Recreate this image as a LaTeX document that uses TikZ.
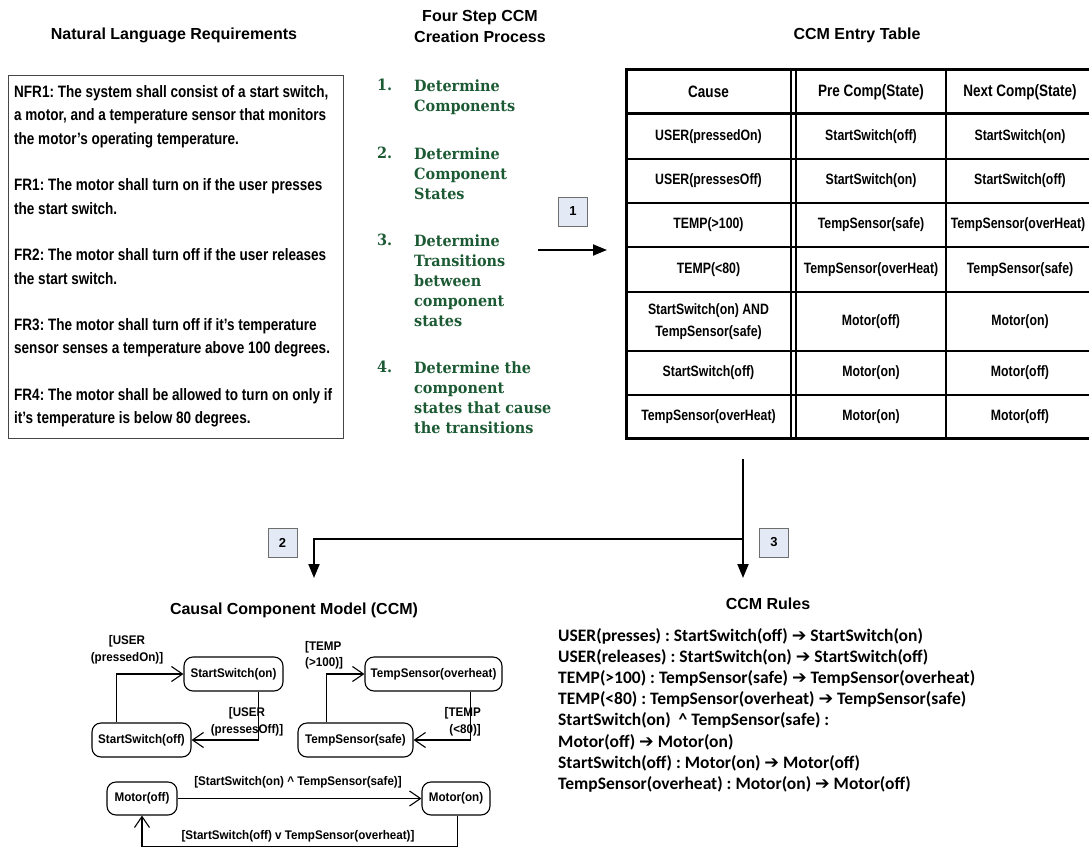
\documentclass[tikz,border=0pt]{standalone}
\usepackage{fontspec}
\usetikzlibrary{arrows.meta}
\setmainfont{Liberation Sans}
\newfontfamily\narrowsans[FakeStretch=0.82]{Liberation Sans}
\newfontfamily\statesans[FakeStretch=0.93]{Liberation Sans}
\newfontfamily\stepserif[FakeStretch=0.93]{DejaVu Serif}
\newfontfamily\rulesfont{Carlito}
\newfontfamily\arrowglyph{DejaVu Sans}
\definecolor{stepgreen}{RGB}{28,90,52}
\definecolor{tagfill}{RGB}{228,234,245}
\definecolor{tagline}{RGB}{110,110,110}
\definecolor{boxline}{RGB}{70,70,70}
\newcommand{\ruleto}{{\arrowglyph ➔}}
\frenchspacing

\begin{document}
\begin{tikzpicture}[x=1pt,y=-1pt,
  heading/.style={font=\bfseries\fontsize{16}{21}\selectfont, align=center, inner sep=0pt},
  reqtext/.style={font=\narrowsans\bfseries\fontsize{16.5}{23.3}\selectfont, align=left, inner sep=0pt, anchor=north west},
  stepnum/.style={font=\stepserif\bfseries\fontsize{15.5}{20}\selectfont, text=stepgreen, inner sep=0pt, anchor=base west},
  steptext/.style={font=\stepserif\bfseries\fontsize{15.5}{20}\selectfont, text=stepgreen, align=left, inner sep=0pt, anchor=north west},
  cell/.style={font=\narrowsans\bfseries\fontsize{15}{22.5}\selectfont, align=center, inner sep=0pt},
  headcell/.style={font=\narrowsans\bfseries\fontsize{16.5}{20}\selectfont, inner sep=0pt},
  tag/.style={draw=tagline, fill=tagfill, line width=1pt, minimum width=29pt, minimum height=29pt, inner sep=0pt, font=\bfseries\fontsize{13}{15}\selectfont},
  flow/.style={line width=2pt, -{Triangle[length=14pt,width=11pt]}},
  state/.style={draw, rounded corners=9pt, line width=1.1pt, minimum height=34pt, inner sep=0pt, font=\statesans\bfseries\fontsize{12.5}{15}\selectfont},
  guard/.style={font=\statesans\bfseries\fontsize{12.5}{16.5}\selectfont, inner sep=0pt},
  trans/.style={line width=1.1pt, -{Straight Barb[length=11pt,width=15pt]}},
  ruletext/.style={font=\rulesfont\bfseries\fontsize{17.5}{21.2}\selectfont, align=left, inner sep=0pt, anchor=north west},
]
\useasboundingbox (0,0) rectangle (1089,848);

% ---------- headings ----------
\node[heading, anchor=base] (hnlr) at (174,40) {Natural Language Requirements};
\node[heading, anchor=north] (hsteps) at (480,10) {Four Step CCM\\Creation Process};
\node[heading, anchor=base] (htable) at (857,40) {CCM Entry Table};
\node[heading, anchor=base] (hccm) at (294,614) {Causal Component Model (CCM)};
\node[heading, anchor=base] (hrules) at (768,609) {CCM Rules};

% ---------- requirements ----------
\node[draw=boxline, line width=1.2pt, anchor=north west, minimum width=335pt, minimum height=363pt, inner sep=0pt] (nfrbox) at (8,75) {};
\node[reqtext] (nfr) at (14,85.5) {%
NFR1: The system shall consist of a start switch,\\
a motor, and a temperature sensor that monitors\\
the motor’s operating temperature.\\[23.3pt]
FR1: The motor shall turn on if the user presses\\
the start switch.\\[23.3pt]
FR2: The motor shall turn off if the user releases\\
the start switch.\\[23.3pt]
FR3: The motor shall turn off if it’s temperature\\
sensor senses a temperature above 100 degrees.\\[23.3pt]
FR4: The motor shall be allowed to turn on only if\\
it’s temperature is below 80 degrees.};

% ---------- creation steps ----------
\node[stepnum] (n1) at (377,90.5) {1.};
\node[steptext] (s1) at (414,79.5) {Determine\\Components};
\node[stepnum] (n2) at (377,158.5) {2.};
\node[steptext] (s2) at (414,147.5) {Determine\\Component\\States};
\node[stepnum] (n3) at (377,245.5) {3.};
\node[steptext] (s3) at (414,234.5) {Determine\\Transitions\\between\\component\\states};
\node[stepnum] (n4) at (377,372.5) {4.};
\node[steptext] (s4) at (414,361.5) {Determine the\\component\\states that cause\\the transitions};

% ---------- step 1 arrow ----------
\node[tag] (tag1) at (573,211.5) {1};
\coordinate (a1s) at (538,250);
\coordinate (a1e) at (607,250);
\draw[flow] (a1s) -- (a1e);

% ---------- entry table ----------
\draw[line width=3pt] (1090,70) -- (626,70) -- (626,438) -- (1090,438);
\draw[line width=3pt] (626,114) -- (1090,114);
\foreach \yy in {159,203,247,292,351,395}
  \draw[line width=2pt] (626,\yy) -- (1090,\yy);
\draw[line width=1.4pt] (791,70) -- (791,438);
\draw[line width=1.4pt] (796,70) -- (796,438);
\draw[line width=2pt] (946,70) -- (946,438);

\node[headcell] (t01) at (708.5,92) {Cause};
\node[headcell] (t02) at (871,92) {Pre Comp(State)};
\node[headcell] (t03) at (1020,92) {Next Comp(State)};
\node[cell] (t11) at (708.5,136.5) {USER(pressedOn)};
\node[cell] (t12) at (871,136.5) {StartSwitch(off)};
\node[cell] (t13) at (1020,136.5) {StartSwitch(on)};
\node[cell] (t21) at (708.5,181) {USER(pressesOff)};
\node[cell] (t22) at (871,181) {StartSwitch(on)};
\node[cell] (t23) at (1020,181) {StartSwitch(off)};
\node[cell] (t31) at (708.5,225) {TEMP(>100)};
\node[cell] (t32) at (871,225) {TempSensor(safe)};
\node[cell] (t33) at (1018,225) {TempSensor(overHeat)};
\node[cell] (t41) at (708.5,269.5) {TEMP(<80)};
\node[cell] (t42) at (871,269.5) {TempSensor(overHeat)};
\node[cell] (t43) at (1020,269.5) {TempSensor(safe)};
\node[cell] (t51) at (708.5,321.5) {StartSwitch(on) AND\\TempSensor(safe)};
\node[cell] (t52) at (871,321.5) {Motor(off)};
\node[cell] (t53) at (1020,321.5) {Motor(on)};
\node[cell] (t61) at (708.5,373) {StartSwitch(off)};
\node[cell] (t62) at (871,373) {Motor(on)};
\node[cell] (t63) at (1020,373) {Motor(off)};
\node[cell] (t71) at (708.5,416.5) {TempSensor(overHeat)};
\node[cell] (t72) at (871,416.5) {Motor(on)};
\node[cell] (t73) at (1020,416.5) {Motor(off)};

% ---------- steps 2 and 3 ----------
\coordinate (splitTop) at (743,459);
\coordinate (split) at (743,539);
\coordinate (rulesTip) at (743,578);
\coordinate (ccmTip) at (314,578);
\draw[flow] (splitTop) -- (rulesTip);
\draw[flow] (split) -| (ccmTip);
\node[tag] (tag2) at (282.5,542.5) {2};
\node[tag] (tag3) at (774,542.5) {3};

% ---------- causal component model ----------
\node[state, minimum width=99pt] (son) at (233.5,674) {StartSwitch(on)};
\node[state, minimum width=99pt] (soff) at (141.5,740) {StartSwitch(off)};
\node[state, minimum width=137pt] (tover) at (433.5,674) {TempSensor(overheat)};
\node[state, minimum width=115pt] (tsafe) at (355.5,740) {TempSensor(safe)};
\node[state, minimum width=70pt, minimum height=33pt] (moff) at (142,798.5) {Motor(off)};
\node[state, minimum width=68pt, minimum height=33pt] (mon) at (456,798.5) {Motor(on)};

\draw[trans] ([xshift=25pt]soff.north west) |- (son.west);
\draw[trans] ([xshift=-25pt]son.south east) |- (soff.east);
\draw[trans] ([xshift=29pt]tsafe.north west) |- (tover.west);
\draw[trans] ([xshift=-32pt]tover.south east) |- (tsafe.east);
\draw[trans] (moff) -- (mon);
\draw[trans] ([xshift=-33pt]mon.south east) -- ++(0,31) -| (moff.south);

\node[guard, align=center] (g1) at (127,650) {[USER\\(pressedOn)]};
\node[guard, align=center] (g2) at (247,722) {[USER\\(pressesOff)]};
\node[guard, align=left, anchor=west] (g3) at (305,655.5) {[TEMP\\(>100)]};
\node[guard, align=right, anchor=east] (g4) at (481,722) {[TEMP\\(<80)]};
\node[guard] (g5) at (298,782) {[StartSwitch(on) \textasciicircum{} TempSensor(safe)]};
\node[guard] (g6) at (298,836) {[StartSwitch(off) v TempSensor(overheat)]};

% ---------- rules ----------
\node[ruletext] (rules) at (558,628) {%
USER(presses) : StartSwitch(off) \ruleto{} StartSwitch(on)\\
USER(releases) : StartSwitch(on) \ruleto{} StartSwitch(off)\\
TEMP(>100) : TempSensor(safe) \ruleto{} TempSensor(overheat)\\
TEMP(<80) : TempSensor(overheat) \ruleto{} TempSensor(safe)\\
StartSwitch(on)\ \ \textasciicircum{} TempSensor(safe)\ :\\
Motor(off) \ruleto{} Motor(on)\\
StartSwitch(off) : Motor(on) \ruleto{} Motor(off)\\
TempSensor(overheat) : Motor(on) \ruleto{} Motor(off)};
\end{tikzpicture}
\end{document}
